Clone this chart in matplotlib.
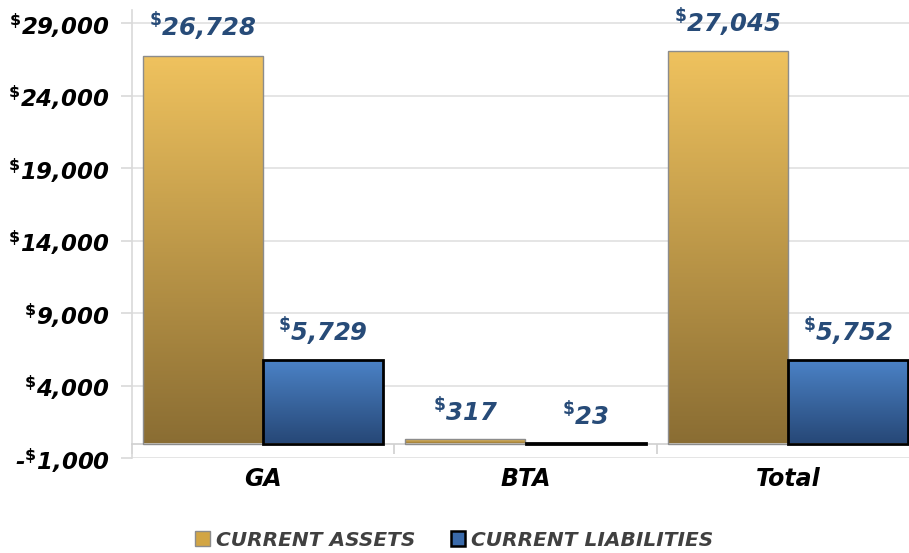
"""
Current assets vs current liabilities by fund, grouped bars with gradient fills.
"""

import numpy as np
from matplotlib import pyplot
from matplotlib.colors import LinearSegmentedColormap
from matplotlib.patches import Patch
from matplotlib.ticker import FuncFormatter, FixedLocator

categories = ['GA', 'BTA', 'Total']
series_names = ['Current Assets', 'Current Liabilities']
current_assets = [26728, 317, 27045]
current_liabilities = [5729, 23, 5752]
y_ticks = [-1000, 4000, 9000, 14000, 19000, 24000, 29000]

gold = ('#EFC25E', '#8A6D33')  # top, bottom
blue = ('#4B82C6', '#264776')
label_color = '#274B78'

pyplot.rc('font', family='DejaVu Sans', weight='bold')
fig = pyplot.figure(figsize=(9.09, 5.53), dpi=100)
ax = fig.add_axes([132 / 909, 1 - 458 / 553, 787 / 909, 448 / 553])

x = np.arange(len(categories))
width = 0.458


def dollar(v):
    s = '{:,.0f}'.format(abs(v))
    return ('-' if v < 0 else '') + r'$^{\$}$' + s


def gradient(ax, patch, colors):
    px, py = patch.get_x(), patch.get_y()
    w, h = patch.get_width(), patch.get_height()
    cmap = LinearSegmentedColormap.from_list('g', [colors[1], colors[0]])
    grad = np.linspace(0, 1, 256).reshape(-1, 1)
    ax.imshow(grad, extent=[px, px + w, py, py + h], origin='lower',
              aspect='auto', cmap=cmap, zorder=2)


bars_a = ax.bar(x - width / 2, current_assets, width, facecolor='none',
                edgecolor='#8C8C8C', linewidth=1.0, zorder=3)
bars_l = ax.bar(x + width / 2, current_liabilities, width, facecolor='none',
                edgecolor='black', linewidth=2.0, zorder=3)
for p in bars_a:
    gradient(ax, p, gold)
for p in bars_l:
    gradient(ax, p, blue)

for bars, vals in ((bars_a, current_assets), (bars_l, current_liabilities)):
    for p, v in zip(bars, vals):
        ax.annotate(dollar(v), (p.get_x() + p.get_width() / 2, v),
                    xytext=(0, 9), textcoords='offset points',
                    ha='center', va='bottom', fontsize=17.5,
                    style='italic', color=label_color)

ax.set_xlim(-0.5, 2.5)
ax.set_ylim(-1000, 29900)
ax.yaxis.set_major_locator(FixedLocator(y_ticks))
ax.yaxis.set_major_formatter(FuncFormatter(lambda v, pos: dollar(v)))
ax.grid(axis='y', color='#E0E0E0', linewidth=1.2, zorder=0)
ax.set_axisbelow(True)
ax.tick_params(axis='y', length=8, color='#D9D9D9', width=1.2,
               labelsize=16.5, pad=8)
for lab in ax.get_yticklabels():
    lab.set_style('italic')

ax.spines['bottom'].set_position(('data', 0))
ax.spines['bottom'].set_color('#D0D0D0')
ax.spines['bottom'].set_linewidth(1.2)
ax.spines['left'].set_color('#D9D9D9')
ax.spines['left'].set_linewidth(1.2)
ax.spines['top'].set_visible(False)
ax.spines['right'].set_visible(False)

ax.set_xticks(x)
ax.set_xticklabels(categories, fontsize=17, style='italic')
ax.set_xticks(np.arange(len(categories) + 1) - 0.5, minor=True)
ax.tick_params(axis='x', which='major', length=0, pad=17)
ax.tick_params(axis='x', which='minor', length=7, color='#D0D0D0', width=1.2)

handles = [Patch(facecolor='#D2A544', edgecolor='#8C8C8C', linewidth=1.0),
           Patch(facecolor='#3A6AAA', edgecolor='black', linewidth=1.8)]
leg = fig.legend(handles, [s.upper() for s in series_names], loc='center',
                 bbox_to_anchor=(0.5, 1 - 540 / 553), ncol=2, frameon=False,
                 fontsize=14.5, handlelength=0.7, handleheight=0.7,
                 handletextpad=0.3, columnspacing=1.8)
for t in leg.get_texts():
    t.set_color('#404040')
    t.set_style('italic')

fig.savefig('out.png', dpi=100)
